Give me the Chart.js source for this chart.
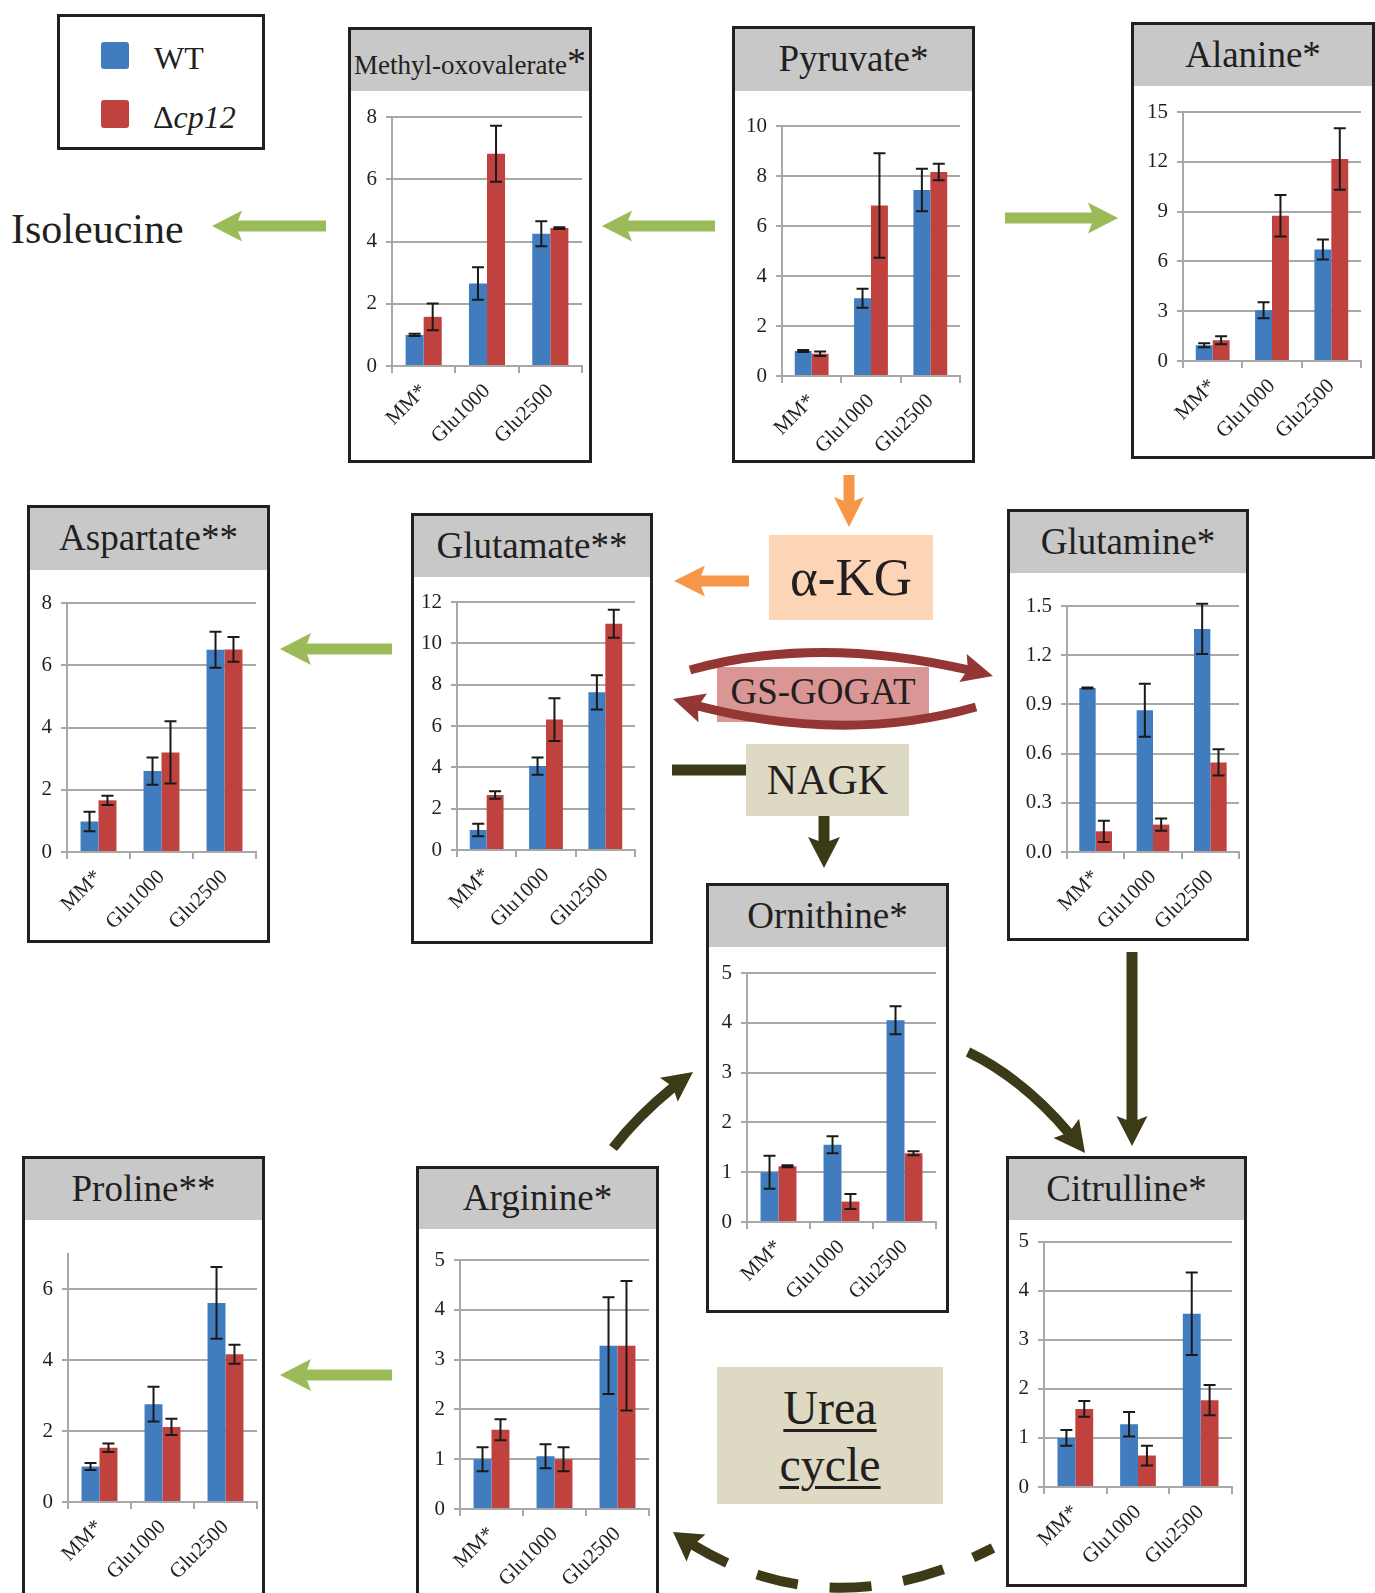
<!DOCTYPE html>
<html>
<head>
<meta charset="utf-8">
<script src="https://cdn.jsdelivr.net/npm/chart.js@4.4.1/dist/chart.umd.min.js"></script>
<style>
  html, body { margin: 0; padding: 0; background: #fff; }
  #page { position: relative; width: 1375px; height: 1593px; overflow: hidden; background: #fff;
    font-family: "Liberation Serif", "Times New Roman", serif; color: #231f20; }
  .box { position: absolute; box-sizing: border-box; border: 3px solid #231f20; z-index: 2; }
  .head { position: absolute; background: #c8c8c8; display: flex; align-items: center; justify-content: center;
    font-size: 37px; line-height: 1; white-space: nowrap; }
  .plot { position: absolute; background: #fff; }
  .tag { position: absolute; display: flex; align-items: center; justify-content: center; line-height: 1; }
  .txt { position: absolute; line-height: 1; white-space: nowrap; }
  svg { position: absolute; left: 0; top: 0; z-index: 3; }
</style>
</head>
<body>
<div id="page">
  <div class="box" style="left:57px;top:14px;width:208px;height:136px;"></div>
  <div style="position:absolute;left:101px;top:42px;width:28px;height:27px;background:#417cbe;border-radius:3px;"></div>
  <div style="position:absolute;left:101px;top:100px;width:28px;height:28px;background:#c0423f;border-radius:3px;"></div>
  <div class="txt" style="left:154px;top:42px;font-size:32px;">WT</div>
  <div class="txt" style="left:153px;top:101px;font-size:32px;">Δ<i>cp12</i></div>
  <div class="txt" style="left:11px;top:208px;font-size:42px;">Isoleucine</div>

  <div class="tag" style="left:769px;top:535px;width:164px;height:85px;background:#fbd5b5;font-size:53px;">α-KG</div>
  <div class="tag" style="left:717px;top:667px;width:212px;height:55px;background:#d99694;font-size:37px;padding-bottom:6px;box-sizing:border-box;">GS-GOGAT</div>
  <div class="tag" style="left:746px;top:744px;width:163px;height:72px;background:#ddd9c3;font-size:42px;">NAGK</div>
  <div class="tag" style="left:717px;top:1367px;width:226px;height:137px;background:#ddd9c3;font-size:48px;flex-direction:column;">
    <div style="text-decoration:underline;text-decoration-thickness:3px;text-underline-offset:5px;line-height:57px;">Urea</div>
    <div style="text-decoration:underline;text-decoration-thickness:3px;text-underline-offset:5px;line-height:57px;">cycle</div>
  </div>
  <div id="panels"></div>
  <svg id="arrows" width="1375" height="1593"></svg>
</div>

<script>
// categories and series
const categories = ["MM*", "Glu1000", "Glu2500"];
const seriesLabels = ["WT", "Δcp12"];
const titles = ["Methyl-oxovalerate", "Pyruvate*", "Alanine*", "Aspartate**", "Glutamate**",
  "Glutamine*", "Ornithine*", "Citrulline*", "Proline**", "Arginine*"];

// y axis ranges
const yMax = [8, 10, 15, 8, 12, 1.5, 5, 5, 7, 5];
const yStep = [2, 2, 3, 2, 2, 0.3, 1, 1, 2, 1];

// values (relative to WT on MM), with error bars
const methylWT = [1.0, 2.65, 4.25];
const methylWTErr = [0.04, 0.52, 0.40];
const methylKO = [1.58, 6.82, 4.43];
const methylKOErr = [0.43, 0.90, 0.03];

const pyruvateWT = [1.0, 3.11, 7.44];
const pyruvateWTErr = [0.04, 0.38, 0.85];
const pyruvateKO = [0.89, 6.82, 8.16];
const pyruvateKOErr = [0.09, 2.09, 0.33];

const alanineWT = [0.95, 3.06, 6.72];
const alanineWTErr = [0.12, 0.48, 0.60];
const alanineKO = [1.25, 8.75, 12.17];
const alanineKOErr = [0.24, 1.25, 1.85];

const aspartateWT = [0.98, 2.60, 6.50];
const aspartateWTErr = [0.31, 0.44, 0.58];
const aspartateKO = [1.66, 3.20, 6.51];
const aspartateKOErr = [0.15, 1.00, 0.40];

const glutamateWT = [0.97, 4.06, 7.63];
const glutamateWTErr = [0.30, 0.42, 0.83];
const glutamateKO = [2.66, 6.31, 10.95];
const glutamateKOErr = [0.18, 1.03, 0.68];

const glutamineWT = [1.0, 0.864, 1.36];
const glutamineWTErr = [0.003, 0.162, 0.153];
const glutamineKO = [0.126, 0.167, 0.546];
const glutamineKOErr = [0.065, 0.038, 0.08];

const ornithineWT = [1.0, 1.55, 4.05];
const ornithineWTErr = [0.33, 0.17, 0.28];
const ornithineKO = [1.12, 0.41, 1.38];
const ornithineKOErr = [0.02, 0.15, 0.04];

const citrullineWT = [1.0, 1.28, 3.53];
const citrullineWTErr = [0.16, 0.25, 0.84];
const citrullineKO = [1.59, 0.64, 1.77];
const citrullineKOErr = [0.16, 0.20, 0.31];

const prolineWT = [1.0, 2.76, 5.62];
const prolineWTErr = [0.10, 0.49, 1.01];
const prolineKO = [1.53, 2.12, 4.17];
const prolineKOErr = [0.12, 0.23, 0.27];

const arginineWT = [1.0, 1.06, 3.28];
const arginineWTErr = [0.24, 0.24, 0.97];
const arginineKO = [1.59, 1.00, 3.28];
const arginineKOErr = [0.21, 0.24, 1.30];

const wt = [methylWT, pyruvateWT, alanineWT, aspartateWT, glutamateWT, glutamineWT, ornithineWT, citrullineWT, prolineWT, arginineWT];
const wtErr = [methylWTErr, pyruvateWTErr, alanineWTErr, aspartateWTErr, glutamateWTErr, glutamineWTErr, ornithineWTErr, citrullineWTErr, prolineWTErr, arginineWTErr];
const ko = [methylKO, pyruvateKO, alanineKO, aspartateKO, glutamateKO, glutamineKO, ornithineKO, citrullineKO, prolineKO, arginineKO];
const koErr = [methylKOErr, pyruvateKOErr, alanineKOErr, aspartateKOErr, glutamateKOErr, glutamineKOErr, ornithineKOErr, citrullineKOErr, prolineKOErr, arginineKOErr];

// panel boxes on the page: box, header height, plot edges relative to the box
const panelLayout = [
  { x: 348, y: 27, w: 244, h: 436, head: 64, ax: 44, top: 90, zero: 339, right: 234 },
  { x: 732, y: 26, w: 243, h: 437, head: 65, ax: 50, top: 100, zero: 350, right: 228 },
  { x: 1131, y: 22, w: 244, h: 437, head: 64, ax: 52, top: 90, zero: 339, right: 230 },
  { x: 27, y: 505, w: 243, h: 438, head: 65, ax: 40, top: 98, zero: 347, right: 229 },
  { x: 411, y: 513, w: 242, h: 431, head: 64, ax: 46, top: 89, zero: 337, right: 224 },
  { x: 1007, y: 509, w: 242, h: 432, head: 64, ax: 60, top: 97, zero: 343, right: 232 },
  { x: 706, y: 883, w: 243, h: 430, head: 64, ax: 41, top: 90, zero: 339, right: 230 },
  { x: 1006, y: 1156, w: 241, h: 431, head: 64, ax: 38, top: 83, zero: 331, right: 226 },
  { x: 22, y: 1156, w: 243, h: 450, head: 64, ax: 46, top: 98, zero: 346, right: 235 },
  { x: 416, y: 1166, w: 243, h: 440, head: 63, ax: 44, top: 94, zero: 343, right: 233 },
];

const BLUE = "#417cbe";
const RED = "#c0423f";
const GRID = "#a8a8a8";
const INK = "#231f20";
const FONT = { family: "'Liberation Serif', 'Times New Roman', serif", size: 21 };

const errorBars = {
  id: "errorBars",
  afterDatasetsDraw(chart) {
    const { ctx } = chart;
    const y = chart.scales.y;
    chart.data.datasets.forEach((ds, i) => {
      chart.getDatasetMeta(i).data.forEach((bar, j) => {
        const hi = y.getPixelForValue(ds.data[j] + ds.errors[j]);
        const lo = y.getPixelForValue(ds.data[j] - ds.errors[j]);
        ctx.save();
        ctx.strokeStyle = "#1a1a1a";
        ctx.lineWidth = 2;
        ctx.beginPath();
        ctx.moveTo(bar.x, hi); ctx.lineTo(bar.x, lo);
        ctx.moveTo(bar.x - 6, hi); ctx.lineTo(bar.x + 6, hi);
        ctx.moveTo(bar.x - 6, lo); ctx.lineTo(bar.x + 6, lo);
        ctx.stroke();
        ctx.restore();
      });
    });
  }
};

const holder = document.getElementById("panels");

panelLayout.forEach((L, i) => {
  const head = document.createElement("div");
  head.className = "head";
  head.style.cssText = `left:${L.x}px;top:${L.y}px;width:${L.w}px;height:${L.head}px;`;
  if (i === 0) {
    head.innerHTML = `<span style="font-size:27px;padding-top:12px;">${titles[0]}</span><span style="font-size:38px;padding-top:4px;">*</span>`;
  } else {
    head.textContent = titles[i];
  }
  holder.appendChild(head);

  const wrap = document.createElement("div");
  wrap.className = "plot";
  wrap.style.cssText = `left:${L.x}px;top:${L.y + L.head}px;width:${L.w}px;height:${L.h - L.head}px;`;
  const canvas = document.createElement("canvas");
  canvas.width = L.w;
  canvas.height = L.h - L.head;
  wrap.appendChild(canvas);
  holder.appendChild(wrap);

  const frame = document.createElement("div");
  frame.className = "box";
  frame.style.cssText = `left:${L.x}px;top:${L.y}px;width:${L.w}px;height:${L.h}px;`;
  holder.appendChild(frame);

  new Chart(canvas, {
    type: "bar",
    data: {
      labels: categories,
      datasets: [
        { label: seriesLabels[0], data: wt[i], errors: wtErr[i], backgroundColor: BLUE },
        { label: seriesLabels[1], data: ko[i], errors: koErr[i], backgroundColor: RED },
      ],
    },
    options: {
      responsive: false,
      animation: false,
      devicePixelRatio: 1,
      layout: { padding: { top: L.top - L.head, right: L.w - L.right, left: 0, bottom: 0 } },
      plugins: { legend: { display: false }, tooltip: { enabled: false } },
      datasets: { bar: { categoryPercentage: 0.57, barPercentage: 1.0 } },
      scales: {
        x: {
          grid: { display: true, drawOnChartArea: false, drawTicks: true, tickLength: 7, color: GRID, lineWidth: 2 },
          border: { display: true, color: GRID, width: 2 },
          ticks: { autoSkip: false, minRotation: 45, maxRotation: 45, font: FONT, color: INK, padding: 6 },
          afterFit: s => { s.height = L.h - L.zero; },
        },
        y: {
          min: 0,
          max: yMax[i],
          grid: { color: GRID, lineWidth: 2, tickLength: 6 },
          border: { display: true, color: GRID, width: 2 },
          ticks: {
            stepSize: yStep[i],
            includeBounds: false,
            font: FONT,
            color: INK,
            padding: 9,
            callback: v => (yStep[i] < 1 ? v.toFixed(1) : v),
          },
          afterFit: s => { s.width = L.ax; },
        },
      },
    },
    plugins: [errorBars],
  });
});

// pathway arrows
const svg = document.getElementById("arrows");
const NS = "http://www.w3.org/2000/svg";
function el(tag, attrs) {
  const e = document.createElementNS(NS, tag);
  for (const k in attrs) e.setAttribute(k, attrs[k]);
  svg.appendChild(e);
  return e;
}
function head(tip, d, hw, hl, notch, color) {
  const n = { x: -d.y, y: d.x };
  const bx = tip[0] - d.x * hl, by = tip[1] - d.y * hl;
  const jx = tip[0] - d.x * (hl - notch), jy = tip[1] - d.y * (hl - notch);
  const pts = [[tip[0], tip[1]], [bx + n.x * hw / 2, by + n.y * hw / 2], [jx, jy], [bx - n.x * hw / 2, by - n.y * hw / 2]];
  el("polygon", { points: pts.map(p => p.join(",")).join(" "), fill: color });
}
function arrow(x1, y1, x2, y2, w, color, hw = 31, hl = 30, notch = 6) {
  const len = Math.hypot(x2 - x1, y2 - y1);
  const d = { x: (x2 - x1) / len, y: (y2 - y1) / len };
  const cut = hl - notch - 1;
  el("line", { x1, y1, x2: x2 - d.x * cut, y2: y2 - d.y * cut, stroke: color, "stroke-width": w });
  head([x2, y2], d, hw, hl, notch, color);
}
function curve(p0, c, tip, w, color, hw, hl, notch, dash, offset) {
  const q = t => [
    (1 - t) * (1 - t) * p0[0] + 2 * t * (1 - t) * c[0] + t * t * tip[0],
    (1 - t) * (1 - t) * p0[1] + 2 * t * (1 - t) * c[1] + t * t * tip[1],
  ];
  const cut = hl - notch - 1;
  let t0 = 1;
  while (t0 > 0) {
    const p = q(t0);
    if (Math.hypot(p[0] - tip[0], p[1] - tip[1]) >= cut) break;
    t0 -= 0.002;
  }
  const c1 = [p0[0] + (c[0] - p0[0]) * t0, p0[1] + (c[1] - p0[1]) * t0];
  const e = q(t0);
  const attrs = { d: `M${p0[0]},${p0[1]} Q${c1[0]},${c1[1]} ${e[0]},${e[1]}`, fill: "none", stroke: color, "stroke-width": w };
  if (dash) { attrs["stroke-dasharray"] = dash; attrs["stroke-dashoffset"] = offset; }
  el("path", attrs);
  const len = Math.hypot(tip[0] - c[0], tip[1] - c[1]);
  head(tip, { x: (tip[0] - c[0]) / len, y: (tip[1] - c[1]) / len }, hw, hl, notch, color);
}

const GREEN = "#9bbb59", ORANGE = "#f79646", DARKRED = "#943634", DARK = "#3c3a17";

arrow(326, 226, 212, 226, 11, GREEN);
arrow(715, 226, 602, 226, 11, GREEN);
arrow(1005, 218, 1118, 218, 11, GREEN);
arrow(392, 649, 280, 649, 11, GREEN, 32, 31);
arrow(392, 1375, 280, 1375, 11, GREEN, 32, 31);
arrow(849, 475, 849, 527, 11, ORANGE, 30, 30);
arrow(749, 581, 674, 581, 11, ORANGE, 31, 31);
el("line", { x1: 672, y1: 770, x2: 746, y2: 770, stroke: DARK, "stroke-width": 11 });
arrow(824, 816, 824, 868, 11, DARK, 32, 31);
arrow(1132, 952, 1132, 1146, 11, DARK, 31, 30);

curve([690, 670], [826, 632], [993, 676], 9, DARKRED, 29, 31, 5);
curve([976, 707], [835, 747], [673, 699], 9, DARKRED, 30, 31, 5);
curve([613, 1148], [644, 1108], [693, 1072], 10, DARK, 30, 30, 5);
curve([968, 1052], [1032, 1083], [1085, 1153], 10, DARK, 32, 31, 5);
curve([993, 1548], [821, 1635], [673, 1532], 10, DARK, 33, 28, 4, "42 32", 20);
</script>
</body>
</html>
